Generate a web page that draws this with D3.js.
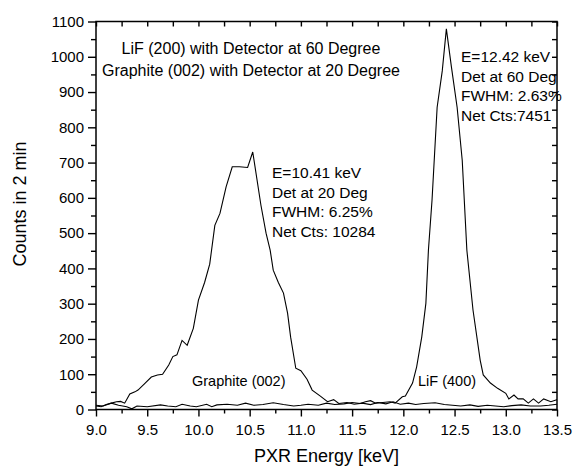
<!DOCTYPE html>
<html>
<head>
<meta charset="utf-8">
<script src="https://cdn.jsdelivr.net/npm/d3@7"></script>
<style>
  body { margin: 0; background: #fff; }
  svg { font-family: "Liberation Sans", Arial, sans-serif; }
</style>
</head>
<body>
<div id="chart"></div>
<script>
// Graphite (002) spectrum, detector at 20 deg
const graphiteEnergy = [9.00, 9.05, 9.10, 9.15, 9.20, 9.24, 9.28, 9.33, 9.38, 9.41, 9.48, 9.54, 9.60, 9.65,
    9.71, 9.75, 9.79, 9.84, 9.89, 9.95, 10.00, 10.06, 10.11, 10.16, 10.21, 10.27, 10.33, 10.40, 10.48, 10.53,
    10.61, 10.66, 10.70, 10.73, 10.78, 10.83, 10.87, 10.90, 10.95, 11.00, 11.06, 11.11, 11.19, 11.26, 11.32,
    11.37, 11.45, 11.52, 11.60, 11.68, 11.75, 11.83, 11.90, 11.97, 12.05, 12.12, 12.20, 12.31, 12.40, 12.48,
    12.56, 12.65, 12.73, 12.82, 12.90, 12.98, 13.06, 13.15, 13.24, 13.34, 13.42, 13.50];
const graphiteCounts = [10, 8, 14, 18, 22, 23, 18, 44, 50, 55, 75, 92, 98, 100,
    126, 150, 155, 196, 182, 230, 310, 360, 412, 522, 556, 631, 688, 688, 686, 730,
    579, 500, 452, 395, 360, 330, 273, 205, 117, 110, 86, 55, 38, 22, 28,
    17, 20, 15, 18, 14, 20, 16, 22, 15, 18, 14, 17, 19, 14, 12,
    10, 13, 9, 12, 10, 8, 11, 13, 10, 10, 12, 15];

// LiF (400) spectrum, detector at 60 deg
const lifEnergy = [9.00, 9.07, 9.15, 9.22, 9.30, 9.35, 9.40, 9.50, 9.63, 9.70, 9.78, 9.84, 9.92, 9.98,
    10.08, 10.13, 10.18, 10.28, 10.38, 10.46, 10.54, 10.63, 10.73, 10.83, 10.93, 11.00, 11.07, 11.17,
    11.25, 11.33, 11.42, 11.50, 11.58, 11.63, 11.68, 11.73, 11.80, 11.87, 11.92, 11.99, 12.02, 12.09,
    12.13, 12.18, 12.22, 12.245, 12.28, 12.33, 12.38, 12.42, 12.47, 12.525, 12.575, 12.62, 12.68, 12.75,
    12.78, 12.85, 12.92, 13.00, 13.03, 13.08, 13.12, 13.17, 13.22, 13.27, 13.32, 13.37, 13.44, 13.49, 13.50];
const lifCounts = [12, 10, 18, 12, 8, 2, 10, 8, 13, 10, 8, 15, 10, 8,
    15, 8, 13, 15, 12, 18, 12, 14, 19, 14, 10, 12, 15, 12,
    18, 14, 16, 20, 17, 22, 25, 18, 20, 22, 18, 36, 38, 75,
    121, 206, 301, 452, 593, 857, 960, 1079, 970, 857, 706, 452, 282, 140,
    98, 75, 60, 46, 30, 41, 30, 30, 18, 30, 18, 30, 22, 27, 28];

// Tick values
const xMajorTicks = [9.0, 9.5, 10.0, 10.5, 11.0, 11.5, 12.0, 12.5, 13.0, 13.5];
const xMinorTicks = [9.25, 9.75, 10.25, 10.75, 11.25, 11.75, 12.25, 12.75, 13.25];
const yMajorTicks = [0, 100, 200, 300, 400, 500, 600, 700, 800, 900, 1000, 1100];
const yMinorTicks = [50, 150, 250, 350, 450, 550, 650, 750, 850, 950, 1050];

// Annotation texts
const titleLines = ["LiF (200) with Detector at 60 Degree", "Graphite (002) with Detector at 20 Degree"];
const graphiteNotes = ["E=10.41 keV", "Det at 20 Deg", "FWHM: 6.25%", "Net Cts: 10284"];
const lifNotes = ["E=12.42 keV", "Det at 60 Deg", "FWHM: 2.63%", "Net Cts:7451"];

let width = 573, height = 466;
let plot = {left: 96, right: 557, top: 21.5, bottom: 409.5};

let svg = d3.select("#chart")
    .append("svg")
    .attr("width", width)
    .attr("height", height);

let x = d3.scaleLinear().domain([9, 13.5]).range([plot.left, plot.right]);
let y = d3.scaleLinear().domain([0, 1100]).range([plot.bottom, plot.top]);

// Bottom axis: labelled major ticks plus minor ticks, all pointing outward
svg.append("g")
    .attr("transform", `translate(0, ${plot.bottom})`)
    .call(d3.axisBottom(x).tickValues(xMajorTicks).tickSize(7).tickPadding(8)
        .tickFormat(d3.format(".1f")));
svg.append("g")
    .attr("transform", `translate(0, ${plot.bottom})`)
    .call(d3.axisBottom(x).tickValues(xMinorTicks).tickSize(4).tickFormat(""));

// Left axis
svg.append("g")
    .attr("transform", `translate(${plot.left}, 0)`)
    .call(d3.axisLeft(y).tickValues(yMajorTicks).tickSize(8).tickPadding(4)
        .tickFormat(d3.format("d")));
svg.append("g")
    .attr("transform", `translate(${plot.left}, 0)`)
    .call(d3.axisLeft(y).tickValues(yMinorTicks).tickSize(5).tickFormat(""));

// Top and right axes: ticks pointing inward, no labels
svg.append("g")
    .attr("transform", `translate(0, ${plot.top})`)
    .call(d3.axisTop(x).tickValues(xMajorTicks.concat(xMinorTicks)).tickSize(-5).tickFormat(""));
svg.append("g")
    .attr("transform", `translate(${plot.right}, 0)`)
    .call(d3.axisRight(y).tickValues(yMajorTicks.concat(yMinorTicks)).tickSize(-5).tickFormat(""));

svg.selectAll(".domain").remove();
svg.selectAll(".tick line").attr("stroke", "#000").attr("stroke-width", 1.4);
svg.selectAll(".tick text").attr("fill", "#000").style("font-size", "15px")
    .style("font-family", "'Liberation Sans', Arial, sans-serif");

// Frame
svg.append("rect")
    .attr("x", plot.left)
    .attr("y", plot.top)
    .attr("width", plot.right - plot.left)
    .attr("height", plot.bottom - plot.top)
    .attr("fill", "none")
    .attr("stroke", "#000")
    .attr("stroke-width", 1.5);

// Spectra
let line = d3.line()
    .x(function(d) { return x(d[0]); })
    .y(function(d) { return y(d[1]); });

let graphiteData = graphiteEnergy.map(function(e, i) { return [e, graphiteCounts[i]]; });
let lifData = lifEnergy.map(function(e, i) { return [e, lifCounts[i]]; });

[graphiteData, lifData].forEach(function(series) {
    svg.append("path")
        .datum(series)
        .attr("fill", "none")
        .attr("stroke", "#000")
        .attr("stroke-width", 1.1)
        .attr("d", line);
});

// Axis titles
svg.append("text")
    .attr("x", (plot.left + plot.right) / 2)
    .attr("y", 462)
    .attr("text-anchor", "middle")
    .style("font-size", "18px")
    .text("PXR Energy [keV]");

svg.append("text")
    .attr("transform", `translate(${26}, ${204}) rotate(-90)`)
    .attr("text-anchor", "middle")
    .style("font-size", "18px")
    .text("Counts in 2 min");

// Title block inside plot
svg.selectAll(".title-line")
    .data(titleLines)
    .enter().append("text")
    .attr("class", "title-line")
    .attr("x", 251)
    .attr("y", function(d, i) { return 54 + i * 22; })
    .attr("text-anchor", "middle")
    .style("font-size", "16px")
    .text(function(d) { return d; });

// Peak notes
function notes(lines, x0, y0) {
    svg.append("g").selectAll("text")
        .data(lines)
        .enter().append("text")
        .attr("x", x0)
        .attr("y", function(d, i) { return y0 + i * 19.5; })
        .style("font-size", "15.5px")
        .text(function(d) { return d; });
}
notes(graphiteNotes, 272, 178);
notes(lifNotes, 461, 62);

// Curve labels
svg.append("text").attr("x", 192).attr("y", 386).style("font-size", "14.5px").text("Graphite (002)");
svg.append("text").attr("x", 418).attr("y", 386).style("font-size", "14.5px").text("LiF (400)");
</script>
</body>
</html>
